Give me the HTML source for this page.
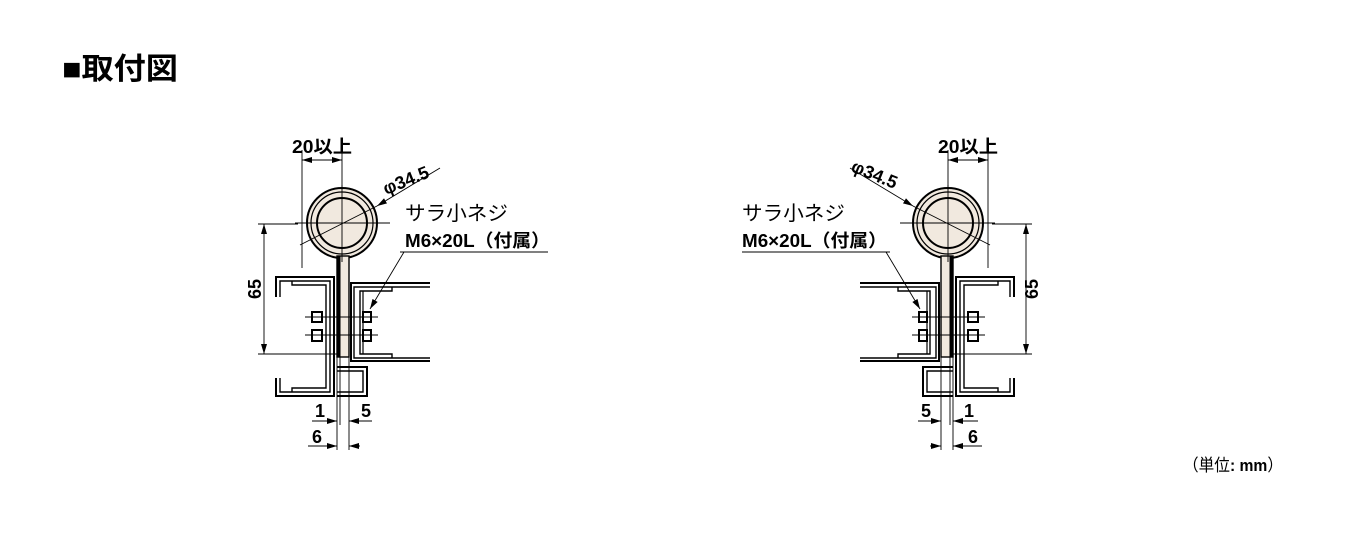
<!DOCTYPE html>
<html><head><meta charset="utf-8"><style>
body{margin:0;background:#fff;width:1350px;height:536px;overflow:hidden}
svg{position:absolute;left:0;top:0}
text{font-family:"Liberation Sans","Noto Sans CJK JP",sans-serif;fill:#000}
.b{font-weight:bold}
</style></head><body>
<svg width="1350" height="536" viewBox="0 0 1350 536">
<defs>
<marker id="a" viewBox="0 0 10 6" refX="10" refY="3" markerWidth="10" markerHeight="6" orient="auto-start-reverse" markerUnits="userSpaceOnUse"><path d="M0,0 L10,3 L0,6 z" fill="#000"/></marker>
<g id="d">
 <circle cx="342" cy="223" r="35" fill="#f1e9df" stroke="#000" stroke-width="2"/>
 <circle cx="342" cy="223" r="31" fill="none" stroke="#000" stroke-width="1.2"/>
 <circle cx="342" cy="223" r="25" fill="none" stroke="#000" stroke-width="2"/>
 <rect x="337" y="256" width="12" height="101" fill="#f1e9df" stroke="#000" stroke-width="1.4"/>
 <rect x="337" y="256" width="3.5" height="101" fill="#000"/>
 <line x1="295" y1="223" x2="390" y2="223" stroke="#000" stroke-width="0.9"/>
 <line x1="342" y1="185" x2="342" y2="262" stroke="#000" stroke-width="0.9"/>
 <polyline points="276,297 276,277 334,277 334,396 276,396 276,378" fill="none" stroke="#000" stroke-width="2"/>
 <polyline points="280,297 280,281 330,281 330,392 280,392 280,378" fill="none" stroke="#000" stroke-width="1.4"/>
 <polyline points="292,281 292,285 326,285 326,388 292,388 292,392" fill="none" stroke="#000" stroke-width="1.4"/>
 <polyline points="430,283 351,283 351,361 430,361" fill="none" stroke="#000" stroke-width="2"/>
 <polyline points="430,287 354,287 354,358 430,358" fill="none" stroke="#000" stroke-width="1.4"/>
 <polyline points="392,287 392,291 360,291 360,354 392,354 392,358" fill="none" stroke="#000" stroke-width="1.4"/>
 <line x1="363" y1="291" x2="363" y2="354" stroke="#000" stroke-width="1.2"/>
 <polyline points="337,367 367,367 367,396 337,396" fill="none" stroke="#000" stroke-width="2"/>
 <polyline points="337,371 363,371 363,392 337,392" fill="none" stroke="#000" stroke-width="1.4"/>
 <rect x="312" y="312" width="10" height="10" fill="#fff" stroke="#000" stroke-width="2"/>
 <rect x="312" y="330" width="10" height="11" fill="#fff" stroke="#000" stroke-width="2"/>
 <rect x="363" y="312" width="8" height="10" fill="#fff" stroke="#000" stroke-width="2"/>
 <rect x="363" y="330" width="8" height="11" fill="#fff" stroke="#000" stroke-width="2"/>
 <line x1="305" y1="317" x2="378" y2="317" stroke="#000" stroke-width="0.9"/>
 <line x1="305" y1="335" x2="378" y2="335" stroke="#000" stroke-width="0.9"/>
 <line x1="302" y1="150" x2="302" y2="268" stroke="#000" stroke-width="0.9"/>
 <line x1="342" y1="150" x2="342" y2="190" stroke="#000" stroke-width="0.9"/>
 <line x1="302" y1="160" x2="342" y2="160" stroke="#000" stroke-width="0.9" marker-start="url(#a)" marker-end="url(#a)"/>
 <line x1="300" y1="245" x2="377" y2="206" stroke="#000" stroke-width="0.9"/>
 <line x1="440" y1="168" x2="377" y2="206" stroke="#000" stroke-width="0.9" marker-end="url(#a)"/>
 <line x1="258" y1="224" x2="298" y2="224" stroke="#000" stroke-width="0.9"/>
 <line x1="258" y1="354" x2="337" y2="354" stroke="#000" stroke-width="0.9"/>
 <line x1="264" y1="224" x2="264" y2="354" stroke="#000" stroke-width="0.9" marker-start="url(#a)" marker-end="url(#a)"/>
 <line x1="337" y1="357" x2="337" y2="450" stroke="#000" stroke-width="0.9"/>
 <line x1="340" y1="357" x2="340" y2="425" stroke="#000" stroke-width="0.9"/>
 <line x1="349" y1="357" x2="349" y2="450" stroke="#000" stroke-width="0.9"/>
 <line x1="312" y1="421" x2="337" y2="421" stroke="#000" stroke-width="0.9" marker-end="url(#a)"/>
 <line x1="372" y1="421" x2="349" y2="421" stroke="#000" stroke-width="0.9" marker-end="url(#a)"/>
 <line x1="308" y1="446" x2="337" y2="446" stroke="#000" stroke-width="0.9" marker-end="url(#a)"/>
 <line x1="360" y1="446" x2="349" y2="446" stroke="#000" stroke-width="0.9" marker-end="url(#a)"/>
</g>
</defs>
<use href="#d"/>
<use href="#d" transform="translate(1290,0) scale(-1,1)"/>
<line x1="400" y1="252" x2="548" y2="252" stroke="#000" stroke-width="0.9"/>
<line x1="404" y1="252" x2="370" y2="309" stroke="#000" stroke-width="0.9" marker-end="url(#a)"/>
<line x1="742" y1="252" x2="890" y2="252" stroke="#000" stroke-width="0.9"/>
<line x1="886" y1="252" x2="920" y2="309" stroke="#000" stroke-width="0.9" marker-end="url(#a)"/>

<text x="62" y="79" class="b" font-size="30" textLength="116" lengthAdjust="spacingAndGlyphs">■取付図</text>
<text x="292" y="153" class="b" font-size="18" textLength="60" lengthAdjust="spacingAndGlyphs">20以上</text>
<text x="0" y="0" class="b" font-size="18" transform="translate(386,195) rotate(-22)">φ34.5</text>
<text x="405" y="220" font-size="20" textLength="103" lengthAdjust="spacingAndGlyphs">サラ小ネジ</text>
<text x="405" y="247" class="b" font-size="18" textLength="145" lengthAdjust="spacingAndGlyphs">M6×20L（付属）</text>
<text x="0" y="0" class="b" font-size="18" text-anchor="middle" transform="translate(261,289) rotate(-90)">65</text>
<text x="320" y="417" class="b" font-size="18" text-anchor="middle">1</text>
<text x="366" y="417" class="b" font-size="18" text-anchor="middle">5</text>
<text x="317" y="443" class="b" font-size="18" text-anchor="middle">6</text>
<text x="938" y="153" class="b" font-size="18" textLength="60" lengthAdjust="spacingAndGlyphs">20以上</text>
<text x="0" y="0" class="b" font-size="18" transform="translate(850,171) rotate(22)">φ34.5</text>
<text x="742" y="220" font-size="20" textLength="103" lengthAdjust="spacingAndGlyphs">サラ小ネジ</text>
<text x="742" y="247" class="b" font-size="18" textLength="145" lengthAdjust="spacingAndGlyphs">M6×20L（付属）</text>
<text x="0" y="0" class="b" font-size="18" text-anchor="middle" transform="translate(1038,289) rotate(-90)">65</text>
<text x="926" y="417" class="b" font-size="18" text-anchor="middle">5</text>
<text x="969" y="417" class="b" font-size="18" text-anchor="middle">1</text>
<text x="973" y="443" class="b" font-size="18" text-anchor="middle">6</text>
<text x="1183" y="471" font-size="17" textLength="100" lengthAdjust="spacingAndGlyphs">（単位<tspan class="b">: mm</tspan>）</text>
</svg>
</body></html>
